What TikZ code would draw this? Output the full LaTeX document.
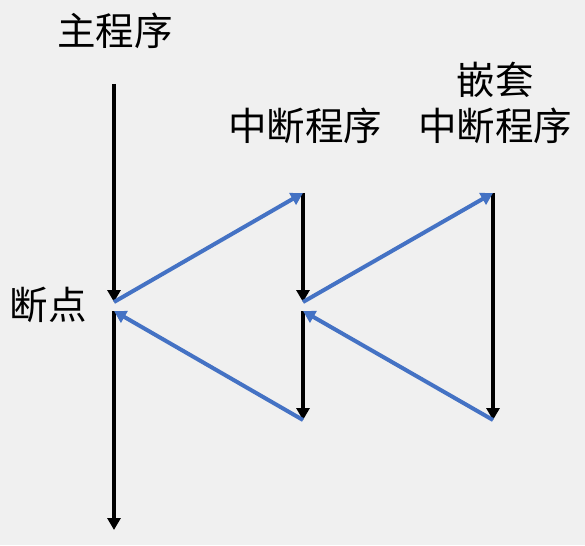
\documentclass[tikz,border=0pt]{standalone}
\usepackage{fontspec}
\newfontfamily\cjk{Noto Sans CJK SC}
\usetikzlibrary{arrows.meta}
\definecolor{bggray}{HTML}{F0F0F0}
\definecolor{callblue}{HTML}{4472C4}

\begin{document}
\begin{tikzpicture}[x=1pt,y=-1pt,
    lbl/.style={font=\cjk\fontsize{38.5}{46}\selectfont, inner sep=0pt, align=center},
    flow/.style={line width=4pt, -{Triangle[length=12pt,width=13pt]}},
    call/.style={line width=4pt, callblue, -{Triangle[length=12pt,width=13pt]}}]
  \fill[bggray] (0,0) rectangle (585,545);
  \useasboundingbox (0,0) rectangle (585,545);

  % labels
  \node[lbl] (main) at (115,31) {主程序};
  \node[lbl] (isr) at (305,126) {中断程序};
  \node[lbl] (nest) at (495,103) {嵌套\\中断程序};
  \node[lbl] (bp) at (48,305) {断点};

  % main program
  \coordinate (m0) at (114,84);
  \coordinate (m1) at (114,302);
  \coordinate (m2) at (114,311);
  \coordinate (m3) at (114,530);
  % interrupt routine
  \coordinate (i0) at (303,193);
  \coordinate (i1) at (303,302);
  \coordinate (i2) at (303,311);
  \coordinate (i3) at (303,420);
  % nested routine
  \coordinate (n0) at (493,193);
  \coordinate (n1) at (493,420);

  \draw[flow] (m0) -- (m1);
  \draw[flow] (m2) -- (m3);
  \draw[flow] (i0) -- (i1);
  \draw[flow] (i2) -- (i3);
  \draw[flow] (n0) -- (n1);

  \draw[call] (m1) -- (i0);
  \draw[call] (i1) -- (n0);
  \draw[call] (n1) -- (i2);
  \draw[call] (i3) -- (m2);
\end{tikzpicture}
\end{document}
